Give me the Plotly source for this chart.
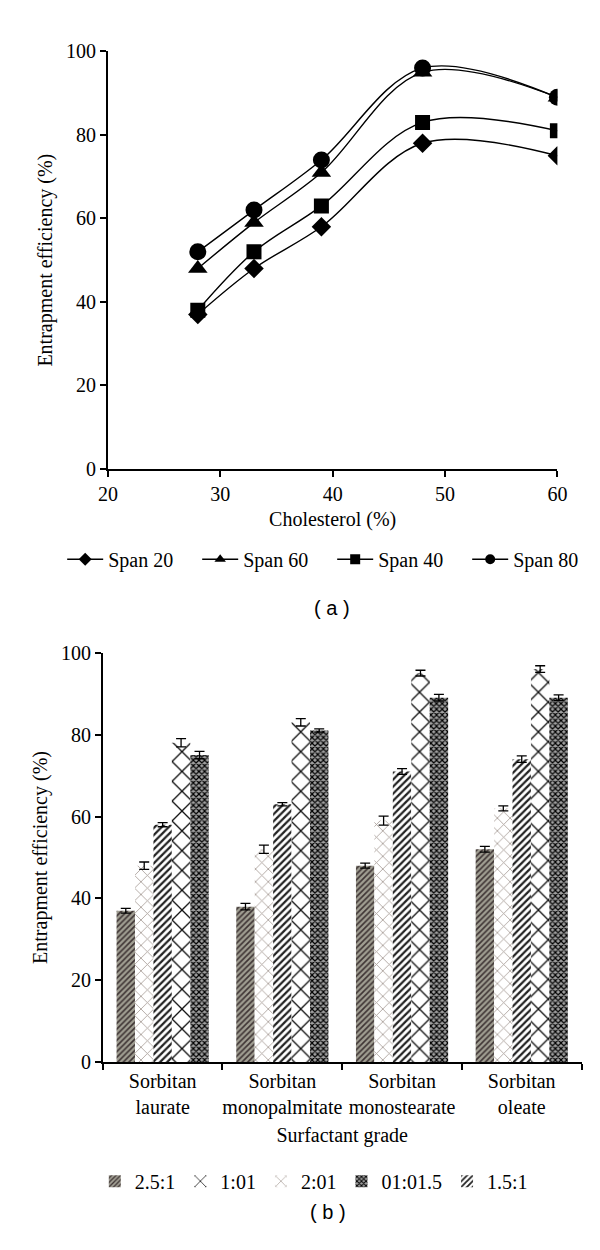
import plotly.graph_objects as go

# ---------------- data: panel (a) ----------------
cholesterol = [28, 33, 39, 48, 60]
span20 = [37, 48, 58, 78, 75]
span60 = [48, 59, 71, 95, 89]
span40 = [38, 52, 63, 83, 81]
span80 = [52, 62, 74, 96, 89]

# ---------------- data: panel (b) ----------------
surfactants = ["Sorbitan<br>laurate", "Sorbitan<br>monopalmitate",
               "Sorbitan<br>monostearate", "Sorbitan<br>oleate"]
r_25_1 = [37, 38, 48, 52]
r_2_01 = [48, 52, 59, 62]
r_15_1 = [58, 63, 71, 74]
r_1_01 = [78, 83, 95, 96]
r_01_015 = [75, 81, 89, 89]
err_25_1 = [0.6, 0.8, 0.6, 0.7]
err_2_01 = [0.9, 1.0, 1.1, 0.6]
err_15_1 = [0.5, 0.4, 0.7, 0.8]
err_1_01 = [1.0, 0.9, 0.7, 0.8]
err_01_015 = [0.9, 0.4, 0.8, 0.7]

SERIF = "Liberation Serif, Times New Roman, serif"
SANS = "Liberation Sans, Arial, sans-serif"
FS = 20

fig = go.Figure()

line_series = [
    ("Span 20", span20, "diamond", 15),
    ("Span 60", span60, "triangle-up", 17),
    ("Span 40", span40, "square", 15),
    ("Span 80", span80, "circle", 17),
]
for name, ys, sym, sz in line_series:
    fig.add_trace(go.Scatter(
        x=cholesterol, y=ys, name=name, mode="lines+markers",
        line=dict(color="black", width=1.4, shape="spline", smoothing=1.0),
        marker=dict(symbol=sym, size=sz, color="black"),
        xaxis="x", yaxis="y", showlegend=False,
    ))
# legend-only entries (smaller symbols, as in the original key)
for name, ys, sym, sz in line_series:
    fig.add_trace(go.Scatter(
        x=[None], y=[None], name=name, mode="lines+markers",
        line=dict(color="black", width=1.4),
        marker=dict(symbol=sym, size=10, color="black"),
        xaxis="x", yaxis="y", legend="legend", showlegend=True,
    ))

bar_series = [
    ("2.5:1", r_25_1, err_25_1,
     dict(shape="/", fgcolor="#3e3434", bgcolor="#a09e92", size=4, solidity=0.4, fgopacity=1), 1),
    ("2:01", r_2_01, err_2_01,
     dict(shape="x", fgcolor="#a89e98", bgcolor="white", size=9, solidity=0.18, fgopacity=1), 3),
    ("1.5:1", r_15_1, err_15_1,
     dict(shape="/", fgcolor="#222222", bgcolor="white", size=5, solidity=0.45, fgopacity=1), 5),
    ("1:01", r_1_01, err_1_01,
     dict(shape="x", fgcolor="#111111", bgcolor="white", size=14, solidity=0.18, fgopacity=1), 2),
    ("01:01.5", r_01_015, err_01_015,
     dict(shape="x", fgcolor="#000000", bgcolor="#a0a0a0", size=4, solidity=0.5, fgopacity=1), 4),
]
for name, ys, es, pat, rank in bar_series:
    fig.add_trace(go.Bar(
        x=surfactants, y=ys, name=name,
        marker=dict(color="white", pattern=pat, line=dict(width=0)),
        error_y=dict(type="data", array=es, color="black", thickness=1.3, width=5),
        xaxis="x2", yaxis="y2", legend="legend2", legendrank=rank,
    ))

axis_common = dict(showline=True, linecolor="black", linewidth=1.6,
                   ticks="outside", ticklen=6, tickcolor="black", tickwidth=1.6,
                   showgrid=False, zeroline=False,
                   tickfont=dict(family=SERIF, size=FS, color="black"))

fig.update_layout(
    width=600, height=1250,
    margin=dict(l=0, r=0, t=0, b=0),
    paper_bgcolor="white", plot_bgcolor="white",
    font=dict(family=SERIF, color="black"),
    barmode="group", bargap=0.23, bargroupgap=0,
    xaxis=dict(domain=[0.155, 0.93], anchor="y", range=[20, 60], dtick=10,
               title=dict(text="Cholesterol (%)", font=dict(family=SERIF, size=FS), standoff=8),
               **axis_common),
    yaxis=dict(domain=[0.6336, 0.9736], anchor="x", range=[0, 100], dtick=20,
               title=dict(text="Entrapment efficiency (%)", font=dict(family=SERIF, size=FS), standoff=8),
               **axis_common),
    xaxis2=dict(domain=[0.1462, 0.9717], anchor="y2", tickson="boundaries", tickangle=0,
                title=dict(text="Surfactant grade", font=dict(family=SERIF, size=FS), standoff=10),
                **axis_common),
    yaxis2=dict(domain=[0.1504, 0.484], anchor="x2", range=[0, 100], dtick=20,
                title=dict(text="Entrapment efficiency (%)", font=dict(family=SERIF, size=FS), standoff=8),
                **axis_common),
    legend=dict(orientation="h", x=0.5417, xanchor="center", y=0.56, yanchor="middle",
                font=dict(family=SERIF, size=FS), bgcolor="rgba(0,0,0,0)",
                itemwidth=36, entrywidth=84),
    legend2=dict(orientation="h", x=0.51, xanchor="center", y=0.0536, yanchor="middle",
                 font=dict(family=SERIF, size=FS), bgcolor="rgba(0,0,0,0)", traceorder="normal"),
    annotations=[
        dict(text="( a )", x=0.5417, y=0.52, xref="paper", yref="paper", showarrow=False,
             font=dict(family=SANS, size=FS)),
        dict(text="( b )", x=0.535, y=0.0176, xref="paper", yref="paper", showarrow=False,
             font=dict(family=SANS, size=FS)),
    ],
)

fig.write_html("out.html")
